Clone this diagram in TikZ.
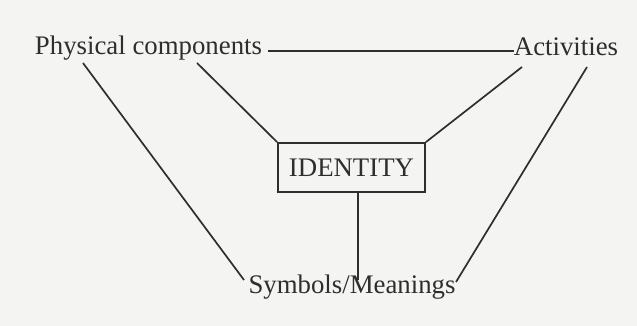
\documentclass[tikz,border=0pt]{standalone}
\usepackage{fontspec}
\setmainfont{Liberation Serif}
\definecolor{ink}{HTML}{2E2E2E}
\definecolor{paper}{HTML}{F4F4F2}
\tikzset{
  lbl/.style={anchor=base, inner sep=0pt, text=ink, font=\fontsize{26.8}{32}\selectfont},
  idbox/.style={draw=ink, line width=1.8pt, inner sep=0pt, minimum width=147pt, minimum height=49pt, text=ink, font=\fontsize{26.8}{32}\selectfont},
  conn/.style={draw=ink, line width=1.7pt}
}
\begin{document}
\begin{tikzpicture}[x=1pt,y=-1pt]
\fill[paper] (0,0) rectangle (637,326);
\useasboundingbox (0,0) rectangle (637,326);
\node[lbl] (pc) at (148.5,55) {Physical components};
\node[lbl] (act) at (566,56) {Activities};
\node[lbl] (sym) at (352,293) {Symbols/Meanings};
\node[idbox] (id) at (351.5,167.5) {IDENTITY};
\coordinate (pc1) at (83,63);
\coordinate (pc2) at (197,63);
\coordinate (act1) at (522,67);
\coordinate (act2) at (587,67);
\coordinate (sym1) at (244,280);
\coordinate (sym2) at (456,282);
\coordinate (symtop) at (358,280);
\coordinate (h1) at (268,51);
\coordinate (h2) at (514,51);
\draw[conn] (h1) -- (h2);
\draw[conn] (pc1) -- (sym1);
\draw[conn] (pc2) -- (id.north west);
\draw[conn] (act1) -- (id.north east);
\draw[conn] (act2) -- (sym2);
\draw[conn] (id.south -| symtop) -- (symtop);
\end{tikzpicture}
\end{document}
